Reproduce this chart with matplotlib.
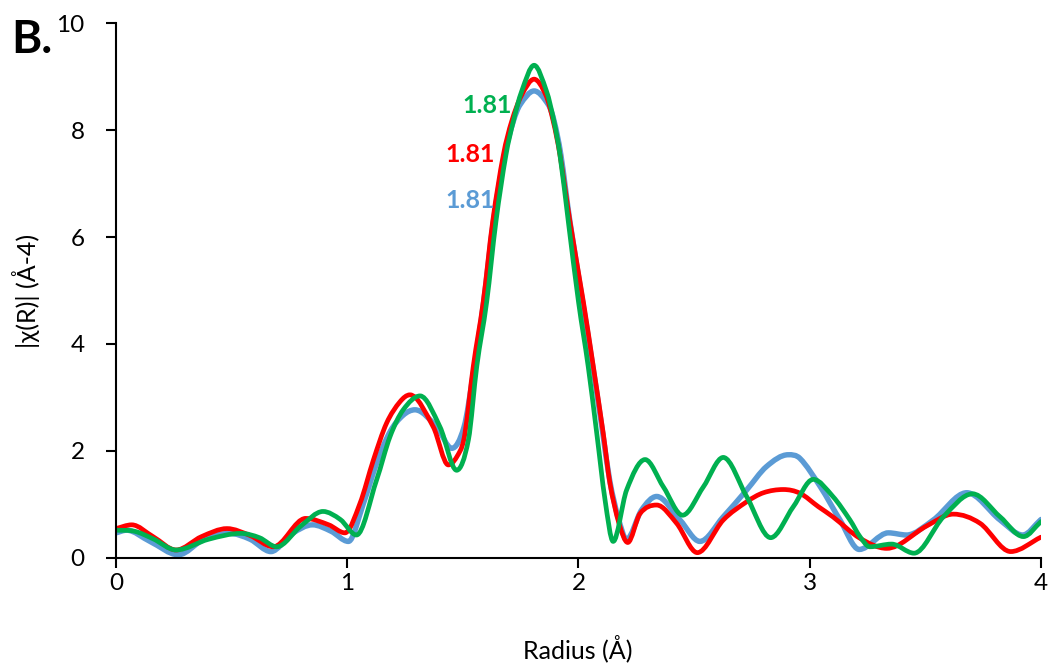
import numpy as np
import matplotlib
matplotlib.use('Agg')
import matplotlib.pyplot as plt
from matplotlib.path import Path
from matplotlib.patches import PathPatch

plt.rcParams['font.family'] = ['Lato', 'DejaVu Sans']

# points (Radius in A, |chi(R)|)
blue_x = [0.000, 0.046, 0.147, 0.270, 0.380, 0.490, 0.580, 0.670, 0.760, 0.850, 0.930, 1.005,
          1.070, 1.127, 1.185, 1.242, 1.293, 1.387, 1.452, 1.505, 1.545, 1.590, 1.632, 1.680,
          1.718, 1.747, 1.808, 1.870, 1.895, 1.924, 1.963, 2.018, 2.062, 2.105, 2.135, 2.172,
          2.208, 2.273, 2.338, 2.439, 2.525, 2.626, 2.727, 2.813, 2.907, 2.958, 3.046, 3.131,
          3.214, 3.340, 3.419, 3.534, 3.679, 3.823, 3.921, 4.000]
blue_y = [0.47, 0.52, 0.31, 0.06, 0.35, 0.46, 0.35, 0.12, 0.45, 0.62, 0.50, 0.31,
          1.02, 1.77, 2.36, 2.67, 2.77, 2.45, 2.05, 2.45, 3.45, 4.79, 6.29, 7.53,
          8.16, 8.47, 8.73, 8.47, 8.16, 7.53, 6.29, 4.79, 3.58, 2.33, 1.45, 0.75,
          0.35, 0.90, 1.15, 0.71, 0.31, 0.77, 1.27, 1.71, 1.93, 1.86, 1.33, 0.71,
          0.16, 0.47, 0.43, 0.71, 1.22, 0.71, 0.43, 0.72]

red_x = [0.000, 0.068, 0.160, 0.260, 0.370, 0.480, 0.580, 0.680, 0.820, 0.920, 0.990,
         1.055, 1.113, 1.170, 1.228, 1.271, 1.372, 1.437, 1.488, 1.509, 1.545, 1.588, 1.629,
         1.675, 1.711, 1.754, 1.808, 1.859, 1.891, 1.920, 1.963, 2.021, 2.064, 2.107, 2.136,
         2.175, 2.213, 2.266, 2.338, 2.424, 2.514, 2.626, 2.727, 2.800, 2.886, 2.958, 3.037,
         3.100, 3.217, 3.333, 3.506, 3.621, 3.736, 3.869, 4.000]
red_y = [0.55, 0.62, 0.40, 0.15, 0.40, 0.55, 0.42, 0.21, 0.74, 0.62, 0.47,
         1.02, 1.83, 2.52, 2.92, 3.05, 2.45, 1.74, 2.00, 2.33, 3.58, 4.79, 6.29,
         7.53, 8.16, 8.65, 8.95, 8.65, 8.16, 7.53, 6.29, 4.79, 3.58, 2.33, 1.40,
         0.65, 0.29, 0.83, 0.99, 0.65, 0.10, 0.71, 1.05, 1.22, 1.28, 1.21, 0.96,
         0.77, 0.37, 0.18, 0.60, 0.82, 0.65, 0.12, 0.39]

green_x = [0.000, 0.080, 0.160, 0.260, 0.400, 0.540, 0.620, 0.695, 0.800, 0.895, 0.970, 1.040,
           1.127, 1.185, 1.242, 1.315, 1.401, 1.473, 1.524, 1.560, 1.603, 1.643, 1.686, 1.718,
           1.754, 1.808, 1.862, 1.894, 1.920, 1.956, 2.000, 2.042, 2.079, 2.115, 2.150, 2.208,
           2.288, 2.367, 2.450, 2.540, 2.626, 2.727, 2.831, 2.929, 3.015, 3.100, 3.174, 3.217,
           3.260, 3.354, 3.451, 3.578, 3.704, 3.823, 3.924, 4.000]
green_y = [0.52, 0.50, 0.36, 0.15, 0.35, 0.46, 0.38, 0.21, 0.60, 0.87, 0.72, 0.43,
           1.46, 2.27, 2.77, 3.03, 2.45, 1.64, 2.21, 3.58, 4.79, 6.29, 7.53, 8.16,
           8.72, 9.21, 8.72, 8.16, 7.53, 6.29, 4.79, 3.58, 2.33, 1.08, 0.31, 1.27,
           1.84, 1.33, 0.80, 1.33, 1.88, 1.15, 0.38, 0.96, 1.47, 1.15, 0.71, 0.40,
           0.21, 0.26, 0.09, 0.77, 1.20, 0.77, 0.40, 0.68]

peak_labels = ['1.81', '1.81', '1.81']
label_x = [1.531, 1.531, 1.604]
label_y = [6.69, 7.55, 8.45]

blue_c = '#5B9BD5'
red_c = '#FF0000'
green_c = '#00B050'


def smooth_path(xs, ys):
    # excel-like smoothed line: cubic bezier through the read points
    xs = np.asarray(xs, float)
    ys = np.asarray(ys, float)
    n = len(xs)
    m = np.zeros(n)
    for i in range(n):
        if i == 0:
            m[i] = (ys[1] - ys[0]) / (xs[1] - xs[0])
        elif i == n - 1:
            m[i] = (ys[-1] - ys[-2]) / (xs[-1] - xs[-2])
        elif (ys[i] - ys[i - 1]) * (ys[i + 1] - ys[i]) <= 0:
            m[i] = 0.0
        else:
            m[i] = (ys[i + 1] - ys[i - 1]) / (xs[i + 1] - xs[i - 1])
    verts = [(xs[0], ys[0])]
    codes = [Path.MOVETO]
    for i in range(n - 1):
        h = xs[i + 1] - xs[i]
        verts += [(xs[i] + h / 3, ys[i] + m[i] * h / 3),
                  (xs[i + 1] - h / 3, ys[i + 1] - m[i + 1] * h / 3),
                  (xs[i + 1], ys[i + 1])]
        codes += [Path.CURVE4] * 3
    return Path(verts, codes)


fig = plt.figure(figsize=(10.53, 6.64), dpi=100)
ax = fig.add_axes([0.11016, 0.15964, 0.87844, 0.80572])

for xs, ys, c, lw in [(blue_x, blue_y, blue_c, 3.9),
                      (red_x, red_y, red_c, 3.4),
                      (green_x, green_y, green_c, 3.4)]:
    ax.add_patch(PathPatch(smooth_path(xs, ys), facecolor='none', edgecolor=c,
                           lw=lw, capstyle='round', joinstyle='round'))

for t, x, y, c in zip(peak_labels, label_x, label_y, [blue_c, red_c, green_c]):
    ax.text(x, y, t, color=c, fontsize=18, fontweight='bold', ha='center', va='center')

ax.set_xlim(0, 4)
ax.set_ylim(0, 10)
ax.set_xticks([0, 1, 2, 3, 4])
ax.set_yticks([0, 2, 4, 6, 8, 10])
ax.spines['top'].set_visible(False)
ax.spines['right'].set_visible(False)
ax.spines['left'].set_linewidth(1.5)
ax.spines['bottom'].set_linewidth(1.5)
ax.tick_params(direction='out', length=7.5, width=1.5, labelsize=17.5)
ax.tick_params(axis='x', pad=3)
ax.tick_params(axis='y', pad=15)

ax.set_xlabel('Radius (Å)', fontsize=18)
ax.set_ylabel('|χ(R)| (Å-4)', fontsize=18)
ax.xaxis.set_label_coords(0.4995, -0.144)
ax.yaxis.set_label_coords(-0.082, 0.5)

fig.text(0.011, 1 - 53 / 664, 'B.', fontsize=33, fontweight='bold', va='baseline')

fig.savefig('out.png', dpi=100)
